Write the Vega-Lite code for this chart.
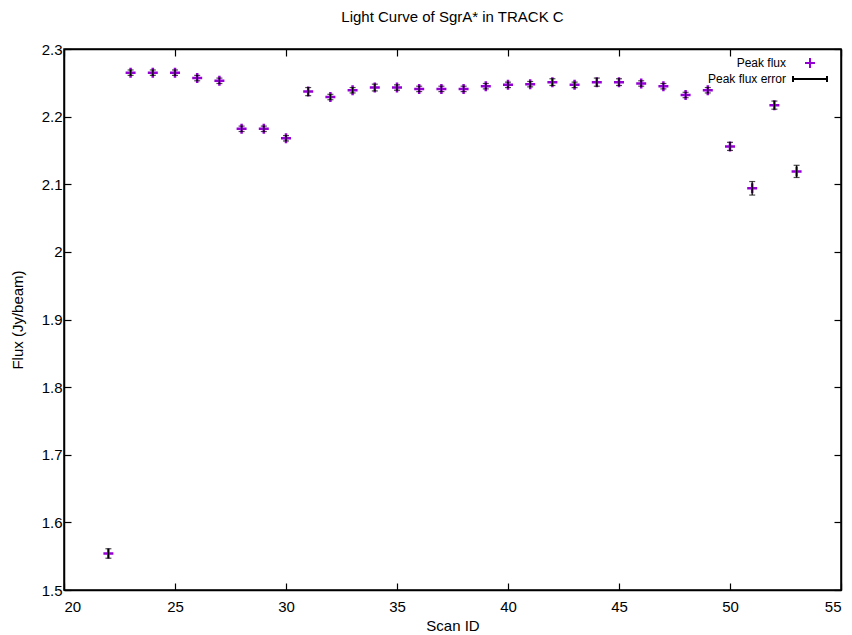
{
  "$schema": "https://vega.github.io/schema/vega-lite/v6.json",
  "width": 777,
  "height": 541,
  "autosize": {"type": "none"},
  "padding": {"left": 64, "top": 49, "right": 11, "bottom": 45},
  "background": "white",
  "title": {"text": "Light Curve of SgrA* in TRACK C", "font": "Liberation Sans", "fontSize": 15, "fontWeight": "normal", "color": "black", "offset": 17, "anchor": "middle"},
  "config": {
    "view": {"stroke": "black", "strokeWidth": 1.5},
    "axis": {"grid": false, "domainColor": "black", "domainWidth": 1.5, "tickColor": "black", "tickWidth": 1.2, "tickSize": -7, "labelColor": "black", "labelFont": "Liberation Sans", "labelFontSize": 15, "titleFont": "Liberation Sans", "titleFontSize": 15, "titleFontWeight": "normal", "titleColor": "black"}
  },
  "data": {"values": [
    {"scan": 22, "flux": 1.554, "err": 0.007, "series": "Peak flux"},
    {"scan": 23, "flux": 2.265, "err": 0.004, "series": "Peak flux"},
    {"scan": 24, "flux": 2.265, "err": 0.004, "series": "Peak flux"},
    {"scan": 25, "flux": 2.265, "err": 0.004, "series": "Peak flux"},
    {"scan": 26, "flux": 2.257, "err": 0.004, "series": "Peak flux"},
    {"scan": 27, "flux": 2.253, "err": 0.004, "series": "Peak flux"},
    {"scan": 28, "flux": 2.182, "err": 0.004, "series": "Peak flux"},
    {"scan": 29, "flux": 2.182, "err": 0.004, "series": "Peak flux"},
    {"scan": 30, "flux": 2.168, "err": 0.004, "series": "Peak flux"},
    {"scan": 31, "flux": 2.237, "err": 0.006, "series": "Peak flux"},
    {"scan": 32, "flux": 2.229, "err": 0.004, "series": "Peak flux"},
    {"scan": 33, "flux": 2.239, "err": 0.004, "series": "Peak flux"},
    {"scan": 34, "flux": 2.243, "err": 0.005, "series": "Peak flux"},
    {"scan": 35, "flux": 2.243, "err": 0.004, "series": "Peak flux"},
    {"scan": 36, "flux": 2.241, "err": 0.004, "series": "Peak flux"},
    {"scan": 37, "flux": 2.241, "err": 0.004, "series": "Peak flux"},
    {"scan": 38, "flux": 2.241, "err": 0.004, "series": "Peak flux"},
    {"scan": 39, "flux": 2.245, "err": 0.004, "series": "Peak flux"},
    {"scan": 40, "flux": 2.247, "err": 0.004, "series": "Peak flux"},
    {"scan": 41, "flux": 2.248, "err": 0.004, "series": "Peak flux"},
    {"scan": 42, "flux": 2.251, "err": 0.005, "series": "Peak flux"},
    {"scan": 43, "flux": 2.247, "err": 0.004, "series": "Peak flux"},
    {"scan": 44, "flux": 2.251, "err": 0.006, "series": "Peak flux"},
    {"scan": 45, "flux": 2.251, "err": 0.005, "series": "Peak flux"},
    {"scan": 46, "flux": 2.249, "err": 0.004, "series": "Peak flux"},
    {"scan": 47, "flux": 2.245, "err": 0.004, "series": "Peak flux"},
    {"scan": 48, "flux": 2.232, "err": 0.004, "series": "Peak flux"},
    {"scan": 49, "flux": 2.239, "err": 0.004, "series": "Peak flux"},
    {"scan": 50, "flux": 2.156, "err": 0.006, "series": "Peak flux"},
    {"scan": 51, "flux": 2.094, "err": 0.010, "series": "Peak flux"},
    {"scan": 52, "flux": 2.217, "err": 0.006, "series": "Peak flux"},
    {"scan": 53, "flux": 2.119, "err": 0.009, "series": "Peak flux"}
  ]},
  "layer": [
    {
      "mark": {"type": "point", "filled": false, "strokeWidth": 2.5, "size": 100, "opacity": 1},
      "encoding": {
        "x": {"field": "scan", "type": "quantitative", "scale": {"domain": [20, 55], "nice": false, "zero": false}, "axis": {"orient": "bottom", "values": [20, 25, 30, 35, 40, 45, 50, 55], "title": "Scan ID", "labelPadding": 16, "titlePadding": 4}},
        "y": {"field": "flux", "type": "quantitative", "scale": {"domain": [1.5, 2.3], "nice": false, "zero": false}, "axis": {"orient": "left", "values": [1.5, 1.6, 1.7, 1.8, 1.9, 2.0, 2.1, 2.2, 2.3], "format": ".2~g", "title": "Flux (Jy/beam)", "labelPadding": 9, "titlePadding": 16}},
        "color": {"field": "series", "type": "nominal", "scale": {"domain": ["Peak flux", "Peak flux error"], "range": ["#9400d3", "black"]}, "legend": {"title": null, "orient": "none", "legendX": 740, "legendY": 8, "labelFont": "Liberation Sans", "labelFontSize": 12, "labelColor": "black", "labelAlign": "right", "labelOffset": -30, "symbolStrokeWidth": 2, "symbolSize": 100, "rowPadding": 0, "padding": 0}},
        "shape": {"field": "series", "type": "nominal", "scale": {"domain": ["Peak flux", "Peak flux error"], "range": ["M-1,0H1M0,-1V1", "M-3.4,0H3.4M-3.4,-0.6V0.6M3.4,-0.6V0.6"]}, "legend": {"title": null, "orient": "none", "legendX": 740, "legendY": 8}}
      }
    },
    {
      "mark": {"type": "errorbar", "ticks": {"size": 6, "color": "black"}, "color": "black", "thickness": 1.2},
      "encoding": {
        "x": {"field": "scan", "type": "quantitative", "axis": {"orient": "top", "labels": false, "title": null, "values": [20, 25, 30, 35, 40, 45, 50, 55]}},
        "y": {"field": "flux", "type": "quantitative", "axis": {"orient": "right", "labels": false, "title": null, "values": [1.5, 1.6, 1.7, 1.8, 1.9, 2.0, 2.1, 2.2, 2.3]}},
        "yError": {"field": "err"}
      }
    }
  ]
}
